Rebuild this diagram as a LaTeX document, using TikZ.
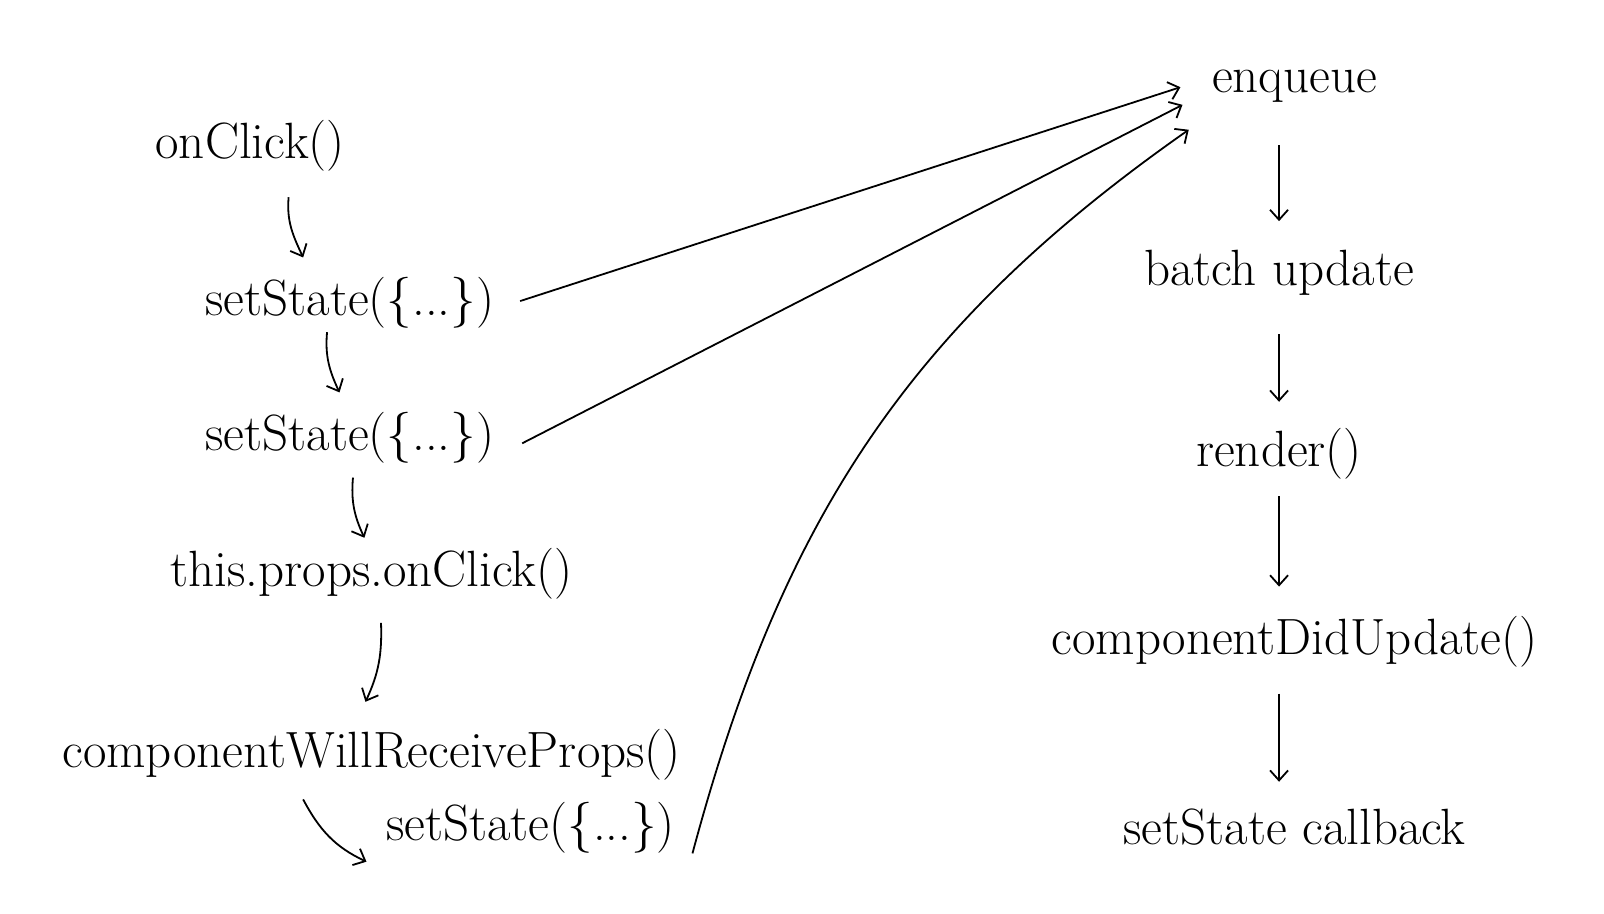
\documentclass[tikz,border=0pt]{standalone}
\usetikzlibrary{arrows.meta,calc}
\begin{document}
\begin{tikzpicture}[x=0.5191pt,y=-0.5191pt,
  lbl/.style={inner sep=0pt,font=\fontsize{25.5}{30}\selectfont},
  arr/.style={line width=0.9pt,-{Straight Barb[length=5pt,width=9pt,line width=0.9pt]}}]
\useasboundingbox (0,0) rectangle (1545,880);
\node[lbl] (on) at (241,140) {onClick()};
\node[lbl] (s1) at (337,292) {setState(\{...\})};
\node[lbl] (s2) at (337,422) {setState(\{...\})};
\node[lbl] (tp) at (358,553) {this.props.onClick()};
\node[lbl] (cw) at (358,727) {componentWillReceiveProps()};
\node[lbl] (s3) at (511,797) {setState(\{...\})};
\node[lbl] (en) at (1247,83) {enqueue};
\node[lbl] (bu) at (1232,263) {batch update};
\node[lbl] (rd) at (1232,437) {render()};
\node[lbl] (cd) at (1247,618) {componentDidUpdate()};
\node[lbl] (sc) at (1247,797) {setState callback};
% left chain
\draw[arr] ($(on)+(37,50)$) to[out=-95,in=115] ($(s1)+(-45,-44)$);
\draw[arr] ($(s1)+(-22,28)$) to[out=-95,in=115] ($(s2)+(-10,-44)$);
\draw[arr] ($(s2)+(3,38)$) to[out=-95,in=115] ($(tp)+(-7,-35)$);
\draw[arr] ($(tp)+(9,47)$) to[out=-88,in=65] ($(cw)+(-6,-51)$);
\draw[arr] ($(cw)+(-66,43)$) to[out=-62,in=155] ($(s3)+(-158,33)$);
% to enqueue
\draw[arr] ($(s1)+(164,-2)$) -- ($(en)+(-110,1)$);
\draw[arr] ($(s2)+(166,5)$) -- ($(en)+(-108,18)$);
\draw[arr] ($(s3)+(156,25)$) to[out=75,in=-145] ($(en)+(-102,42)$);
% right chain
\draw[arr] ($(en)+(-15,57)$) -- ($(bu)+(0,-50)$);
\draw[arr] ($(bu)+(0,59)$) -- ($(rd)+(0,-50)$);
\draw[arr] ($(rd)+(0,41)$) -- ($(cd)+(-15,-53)$);
\draw[arr] ($(cd)+(-15,50)$) -- ($(sc)+(-15,-44)$);
\end{tikzpicture}
\end{document}
